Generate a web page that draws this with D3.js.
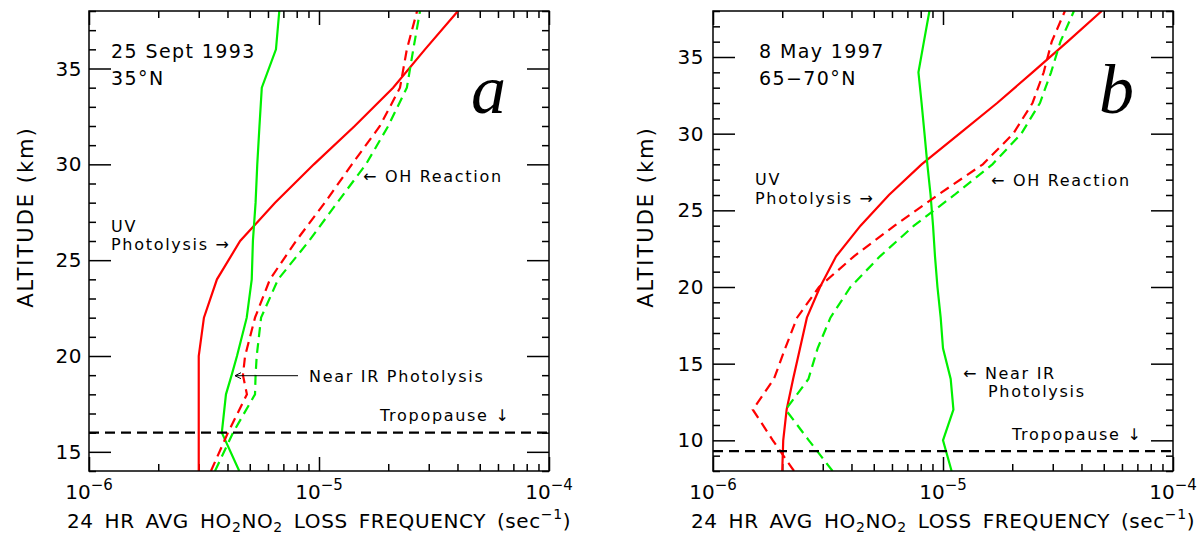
<!DOCTYPE html>
<html>
<head>
<meta charset="utf-8">
<script src="https://cdn.jsdelivr.net/npm/d3@7"></script>
<style>
  body { margin: 0; background: #fff; }
  svg { display: block; font-family: "DejaVu Sans", sans-serif; }
  text { fill: #000; }
</style>
</head>
<body>
<svg></svg>
<script>
// panel a: 25 Sept 1993, 35N
let altA = [14, 16, 18, 19, 20, 22, 24, 26, 28, 30, 32, 34, 36, 38]
let uvA = [3.0e-6, 3.0e-6, 3.0e-6, 3.0e-6, 3.0e-6, 3.16e-6, 3.6e-6, 4.54e-6, 6.44e-6, 9.5e-6, 1.43e-5, 2.1e-5, 2.89e-5, 4.02e-5]
let ohRedA = [3.39e-6, 4.02e-6, 4.86e-6, 4.67e-6, 4.77e-6, 5.27e-6, 6.12e-6, 7.94e-6, 1.06e-5, 1.39e-5, 1.84e-5, 2.25e-5, 2.41e-5, 2.67e-5]
let ohGreenA = [3.53e-6, 4.23e-6, 5.27e-6, 5.3e-6, 5.36e-6, 5.6e-6, 6.64e-6, 9.05e-6, 1.2e-5, 1.6e-5, 2.0e-5, 2.41e-5, 2.57e-5, 2.75e-5]
let nirA = [4.5e-6, 3.78e-6, 3.94e-6, 4.17e-6, 4.4e-6, 4.85e-6, 5.1e-6, 5.16e-6, 5.3e-6, 5.39e-6, 5.51e-6, 5.64e-6, 6.5e-6, 6.72e-6]
let tropA = 16

// panel b: 8 May 1997, 65-70N
let altB = [8, 10, 12, 14, 16, 18, 20, 22, 24, 26, 28, 30, 32, 34, 36, 38]
let uvB = [2.0e-6, 2.02e-6, 2.09e-6, 2.23e-6, 2.39e-6, 2.56e-6, 2.92e-6, 3.43e-6, 4.38e-6, 5.82e-6, 8.07e-6, 1.18e-5, 1.72e-5, 2.45e-5, 3.48e-5, 4.9e-5]
let ohRedB = [2.25e-6, 1.82e-6, 1.49e-6, 1.84e-6, 2.06e-6, 2.32e-6, 2.89e-6, 4.1e-6, 6.16e-6, 9.49e-6, 1.49e-5, 2.02e-5, 2.45e-5, 2.74e-5, 2.97e-5, 3.39e-5]
let ohGreenB = [3.31e-6, 2.61e-6, 2.07e-6, 2.6e-6, 2.85e-6, 3.24e-6, 3.96e-6, 5.32e-6, 7.48e-6, 1.12e-5, 1.64e-5, 2.19e-5, 2.64e-5, 2.95e-5, 3.24e-5, 3.71e-5]
let nirB = [1.09e-5, 1.0e-5, 1.11e-5, 1.08e-5, 1.0e-5, 9.77e-6, 9.46e-6, 9.23e-6, 9.05e-6, 8.83e-6, 8.55e-6, 8.31e-6, 8.07e-6, 7.82e-6, 8.26e-6, 8.73e-6]
let tropB = 9.3

let xMajor = [1e-6, 1e-5, 1e-4]
let xLabels = ['-6', '-5', '-4']
let xMinor = [2, 3, 4, 5, 6, 7, 8, 9].flatMap(m => [m * 1e-6, m * 1e-5])

let width = 1201
let height = 535
let red = '#ff0000'
let green = '#00f000'

let svg = d3.select('svg').attr('width', width).attr('height', height)

let drawPanel = (p) => {
    let w = 460, h = 460
    let g = svg.append('g').attr('transform', 'translate(' + p.left + ',' + p.top + ')')

    let x = d3.scaleLog().domain([1e-6, 1e-4]).range([0, w])
    let y = d3.scaleLinear().domain(p.yDomain).range([h, 0])

    let yMajor = d3.range(Math.ceil(p.yDomain[0] / 5) * 5, p.yDomain[1] + 0.1, 5)
    let yMinor = d3.range(p.yDomain[0], p.yDomain[1] + 0.1, 1).filter(v => v % 5 !== 0)

    let clipId = 'clip' + p.name
    g.append('clipPath').attr('id', clipId).append('rect').attr('width', w).attr('height', h)

    // ticks, all pointing inward
    let tick = (axis, tx, ty) => {
        g.append('g').attr('transform', 'translate(' + tx + ',' + ty + ')')
         .call(axis.tickFormat('').tickSizeOuter(0))
         .call(a => a.select('.domain').remove())
         .call(a => a.selectAll('line').attr('stroke-width', 1.5))
    }
    tick(d3.axisTop(x).tickValues(xMajor).tickSize(14), 0, h)
    tick(d3.axisTop(x).tickValues(xMinor).tickSize(7), 0, h)
    tick(d3.axisBottom(x).tickValues(xMajor).tickSize(14), 0, 0)
    tick(d3.axisBottom(x).tickValues(xMinor).tickSize(7), 0, 0)
    tick(d3.axisRight(y).tickValues(yMajor).tickSize(22), 0, 0)
    tick(d3.axisRight(y).tickValues(yMinor).tickSize(7), 0, 0)
    tick(d3.axisLeft(y).tickValues(yMajor).tickSize(22), w, 0)
    tick(d3.axisLeft(y).tickValues(yMinor).tickSize(7), w, 0)

    // y tick labels
    g.selectAll('.ylab').data(yMajor).enter().append('text')
     .attr('x', -p.yLabPad).attr('y', d => y(d) + 7)
     .attr('text-anchor', 'end').attr('font-size', 20).attr('letter-spacing', 0.5)
     .text(d => d)

    // x tick labels 10^n
    let xl = g.selectAll('.xlab').data(xMajor).enter().append('text')
     .attr('x', d => x(d)).attr('y', h + 28)
     .attr('text-anchor', 'middle').attr('font-size', 20)
    xl.append('tspan').text('10')
    xl.append('tspan').attr('font-size', 15).attr('dy', -9).text((d, i) => xLabels[i].replace('-', '\u2212'))

    // curves
    let line = d3.line().x(d => x(d[0])).y(d => y(d[1]))
    let series = [
        { v: p.uv, c: red, dash: null },
        { v: p.nir, c: green, dash: null },
        { v: p.ohRed, c: red, dash: '10,6' },
        { v: p.ohGreen, c: green, dash: '10,6' }
    ]
    g.append('g').attr('clip-path', 'url(#' + clipId + ')')
     .selectAll('path').data(series).enter().append('path')
     .attr('d', s => line(s.v.map((v, i) => [v, p.alt[i]])))
     .attr('fill', 'none').attr('stroke', s => s.c).attr('stroke-width', 2.2)
     .attr('stroke-dasharray', s => s.dash)

    // tropopause
    g.append('line').attr('x1', 0).attr('x2', w)
     .attr('y1', y(p.trop)).attr('y2', y(p.trop))
     .attr('stroke', '#000').attr('stroke-width', 2.2).attr('stroke-dasharray', '10,6')

    // frame
    g.append('rect').attr('width', w).attr('height', h)
     .attr('fill', 'none').attr('stroke', '#000').attr('stroke-width', 1.5)

    // axis titles
    let xt = g.append('text').attr('x', w / 2).attr('y', h + 57)
     .attr('text-anchor', 'middle').attr('font-size', 20).attr('letter-spacing', 0.6).attr('word-spacing', 4)
    xt.append('tspan').text('24 HR AVG HO')
    xt.append('tspan').attr('font-size', 14).attr('dy', 4).text('2')
    xt.append('tspan').attr('dy', -4).text('NO')
    xt.append('tspan').attr('font-size', 14).attr('dy', 4).text('2')
    xt.append('tspan').attr('dy', -4).text(' LOSS FREQUENCY (sec')
    xt.append('tspan').attr('font-size', 14).attr('dy', -9).text('\u22121')
    xt.append('tspan').attr('dy', 9).text(')')

    g.append('text')
     .attr('transform', 'translate(' + p.yTitleX + ',' + 206 + ') rotate(-90)')
     .attr('text-anchor', 'middle').attr('font-size', 21).attr('letter-spacing', 2)
     .text('ALTITUDE (km)')

    // annotations
    p.notes.forEach(n => {
        g.append('text').attr('x', n[0]).attr('y', n[1])
         .attr('font-size', n[3] || 16).attr('letter-spacing', n[3] ? 1.4 : 1.7)
         .text(n[2])
    })

    g.append('text').attr('x', p.letter[0]).attr('y', p.letter[1])
     .style('font-family', '"Liberation Serif", "DejaVu Serif", serif').style('font-style', 'italic')
     .attr('font-size', 70).text(p.letter[2])

    if (p.nirArrow) {
        let a = p.nirArrow
        g.append('line').attr('x1', a[0]).attr('x2', a[1]).attr('y1', a[2]).attr('y2', a[2])
         .attr('stroke', '#000').attr('stroke-width', 1)
        g.append('path').attr('d', 'M' + (a[0] + 6) + ',' + (a[2] - 3) + 'L' + a[0] + ',' + a[2] + 'L' + (a[0] + 6) + ',' + (a[2] + 3))
         .attr('fill', 'none').attr('stroke', '#000').attr('stroke-width', 1)
    }
}

drawPanel({
    name: 'a', left: 89, top: 11, yDomain: [14, 38],
    alt: altA, uv: uvA, nir: nirA, ohRed: ohRedA, ohGreen: ohGreenA, trop: tropA,
    yLabPad: 7, yTitleX: -56,
    letter: [382, 102, 'a'],
    notes: [
        [22, 47, '25 Sept 1993', 19],
        [22, 74, '35\u00b0N', 19],
        [22, 221, 'UV'],
        [22, 239, 'Photolysis \u2192'],
        [274, 171, '\u2190 OH Reaction'],
        [220, 370.7, 'Near IR Photolysis'],
        [291, 409.7, 'Tropopause \u2193']
    ],
    nirArrow: [146, 209, 364.7]
})

drawPanel({
    name: 'b', left: 713, top: 11, yDomain: [8, 38],
    alt: altB, uv: uvB, nir: nirB, ohRed: ohRedB, ohGreen: ohGreenB, trop: tropB,
    yLabPad: 9, yTitleX: -60,
    letter: [386, 102, 'b'],
    notes: [
        [46, 47, '8 May 1997', 19],
        [46, 74, '65\u221270\u00b0N', 19],
        [42, 174, 'UV'],
        [42, 193, 'Photolysis \u2192'],
        [278, 175, '\u2190 OH Reaction'],
        [250, 368, '\u2190 Near IR'],
        [275, 386, 'Photolysis'],
        [299, 429, 'Tropopause \u2193']
    ]
})
</script>
</body>
</html>
